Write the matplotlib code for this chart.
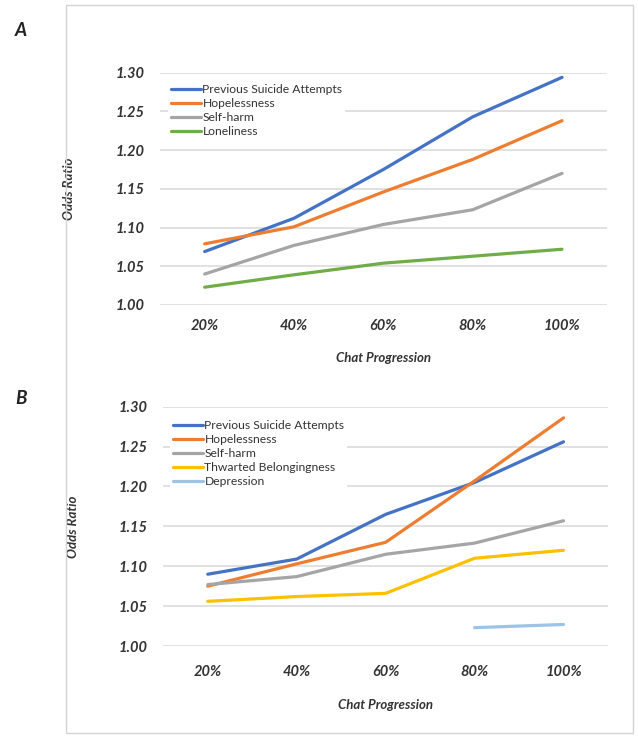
import numpy as np
import matplotlib
matplotlib.use("Agg")
import matplotlib.pyplot as plt
from matplotlib.patches import Rectangle

categories = ["20%", "40%", "60%", "80%", "100%"]
y_ticks = [1.00, 1.05, 1.10, 1.15, 1.20, 1.25, 1.30]

a_series = {
    "Previous Suicide Attempts": [1.069, 1.112, 1.175, 1.243, 1.294],
    "Hopelessness": [1.079, 1.101, 1.146, 1.188, 1.238],
    "Self-harm": [1.040, 1.077, 1.104, 1.123, 1.170],
    "Loneliness": [1.023, 1.039, 1.054, 1.063, 1.072],
}
b_series = {
    "Previous Suicide Attempts": [1.090, 1.109, 1.165, 1.205, 1.256],
    "Hopelessness": [1.075, 1.103, 1.130, 1.207, 1.286],
    "Self-harm": [1.077, 1.087, 1.115, 1.129, 1.157],
    "Thwarted Belongingness": [1.056, 1.062, 1.066, 1.110, 1.120],
    "Depression": [np.nan, np.nan, np.nan, 1.023, 1.027],
}
colors = {
    "Previous Suicide Attempts": "#4472C4",
    "Hopelessness": "#ED7D31",
    "Self-harm": "#A5A5A5",
    "Loneliness": "#70AD47",
    "Thwarted Belongingness": "#FFC000",
    "Depression": "#9DC3E6",
}

W, H = 638, 737
fig = plt.figure(figsize=(W / 100, H / 100), dpi=100)
fig.patch.set_facecolor("white")

# outer border
fig.add_artist(Rectangle((65.5 / W, 1 - 732.5 / H), (633 - 65.5) / W, (732.5 - 4.5) / H,
                         transform=fig.transFigure, fill=False,
                         edgecolor="#D4D4D4", linewidth=1.0))

FONT = "Lato"
bi = dict(family=FONT, weight="bold", style="italic")
TXT = "#333333"


def draw(ax, series, box, xpad, title_pad, leg_xy):
    left, right, top, bottom = box
    x = np.arange(len(categories))
    for name, vals in series.items():
        ax.plot(x, vals, color=colors[name], linewidth=2.3, label=name,
                solid_capstyle="round")
    ax.set_xlim(-0.5, len(categories) - 0.5)
    ax.set_ylim(1.00, 1.30)
    ax.set_yticks(y_ticks)
    ax.set_yticklabels([f"{v:.2f}" for v in y_ticks], fontsize=10.5, color=TXT, **bi)
    ax.set_xticks(x)
    ax.set_xticklabels(categories, fontsize=10.5, color=TXT, **bi)
    ax.tick_params(length=0)
    ax.tick_params(axis="x", pad=xpad)
    ax.tick_params(axis="y", pad=11)
    for s in ax.spines.values():
        s.set_visible(False)
    ax.grid(axis="y", color="#D9D9D9", linewidth=1.1)
    ax.set_axisbelow(True)
    ax.set_xlabel("Chat Progression", fontsize=9.5, color=TXT, labelpad=title_pad, **bi)
    ax.set_ylabel("Odds Ratio", fontsize=9.5, color=TXT, labelpad=29, **bi)
    lx = (leg_xy[0] - left) / (right - left)
    ly = (bottom - leg_xy[1]) / (bottom - top)
    leg = ax.legend(loc="upper left", bbox_to_anchor=(lx, ly), borderaxespad=0,
                    frameon=True, fancybox=False, edgecolor="none", facecolor="white",
                    framealpha=1, handlelength=2.5, handletextpad=0.1,
                    labelspacing=0.25, borderpad=0.25,
                    prop=dict(family=FONT, size=8.7))
    for t in leg.get_texts():
        t.set_color(TXT)


boxA = (160, 606.7, 72.7, 305)
boxB = (163.3, 608, 406.7, 646)
axA = fig.add_axes([boxA[0] / W, 1 - boxA[3] / H, (boxA[1] - boxA[0]) / W, (boxA[3] - boxA[2]) / H])
draw(axA, a_series, boxA, 10, 14, (168, 81))
axB = fig.add_axes([boxB[0] / W, 1 - boxB[3] / H, (boxB[1] - boxB[0]) / W, (boxB[3] - boxB[2]) / H])
draw(axB, b_series, boxB, 14, 14, (170, 417))

fig.text(15 / W, 1 - 30 / H, "A", fontsize=13.5, va="center", ha="left", color="#222222", **bi)
fig.text(15 / W, 1 - 399 / H, "B", fontsize=13.5, va="center", ha="left", color="#222222", **bi)

fig.savefig("out.png", dpi=100, facecolor="white")
